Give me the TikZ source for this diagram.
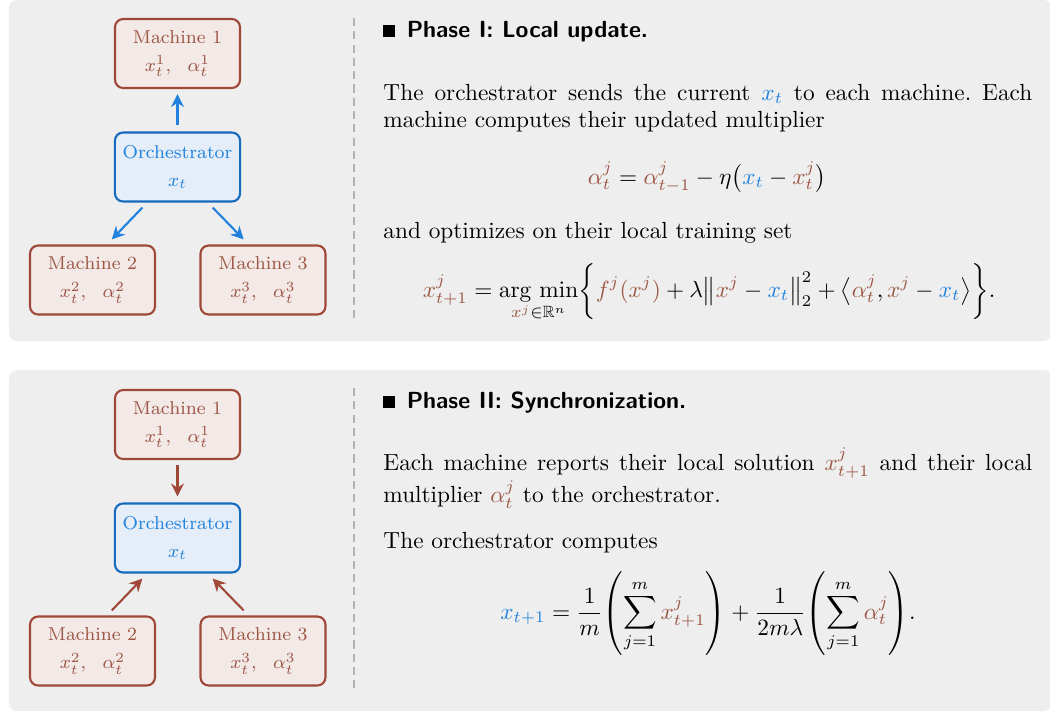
\documentclass[tikz,border=0pt]{standalone}
\usepackage{amsmath, amssymb}
\usepackage{tikz}
\usetikzlibrary{positioning, arrows.meta}
\frenchspacing

\definecolor{panelgray}{RGB}{238,238,238}
\definecolor{machborder}{RGB}{160,72,56}
\definecolor{machtext}{RGB}{156,86,68}
\definecolor{machfill}{RGB}{243,233,231}
\definecolor{orchborder}{RGB}{22,106,190}
\definecolor{orchtext}{RGB}{32,130,222}
\definecolor{orchfill}{RGB}{228,237,248}

\newcommand{\xcur}{{\color{orchtext}x_t}}
\newcommand{\xnxt}{{\color{orchtext}x_{t+1}}}
\newcommand{\mc}[1]{{\color{machtext}#1}}

\tikzset{
	machine/.style={draw=machborder, fill=machfill, text=machtext, line width=0.9pt,
		rounded corners=3.5pt, minimum width=53.6pt, minimum height=29.6pt,
		align=center, font=\footnotesize, execute at begin node={\rule{0pt}{7.6pt}}},
	orch/.style={machine, draw=orchborder, fill=orchfill, text=orchtext},
	push/.style={-{Stealth[length=5.5pt,width=5.5pt]}, line width=0.9pt, draw=orchtext},
	pull/.style={push, draw=machborder},
	panel/.style={fill=panelgray, rounded corners=3.5pt},
	divider/.style={draw=gray!60, line width=0.5pt, dash pattern=on 3.5pt off 2.2pt},
	para/.style={anchor=base west, text width=278.4pt, align=justify, inner sep=0pt},
	eqn/.style={anchor=base, inner sep=0pt},
	head/.style={anchor=base west, inner sep=0pt, font=\sffamily\bfseries}
}

\begin{document}
\begin{tikzpicture}[x=0.429pt, y=-0.429pt]
	\useasboundingbox (0,0) rectangle (1050,712);
	% two panels
	\foreach \off in {0,370}{
		\fill[panel] (9,\off) rectangle (1052,341+\off);
		\draw[divider] (354,18+\off) -- (354,320+\off);
	}
	
	% phase I: local update
	\node[machine] (a1) at (177.5,53.5) {Machine 1\\[2.5pt] $x_t^1,\ \ \alpha_t^1$};
	\node[orch] (aorc) at (177.5,167) {Orchestrator\\[2.5pt] $x_t$};
	\node[machine] (a2) at (92.5,280) {Machine 2\\[2.5pt] $x_t^2,\ \ \alpha_t^2$};
	\node[machine] (a3) at (263,280) {Machine 3\\[2.5pt] $x_t^3,\ \ \alpha_t^3$};
	\draw[push, shorten <=2.6pt, shorten >=2.2pt] (aorc.north) -- (a1.south);
	\draw[push, shorten <=3pt, shorten >=3pt] ([xshift=-13pt]aorc.south) -- ([xshift=6.2pt]a2.north);
	\draw[push, shorten <=3pt, shorten >=3pt] ([xshift=13pt]aorc.south) -- ([xshift=-6.2pt]a3.north);
	
	\node[head] (h1) at (383,37) {\rule{5pt}{5pt}\hspace{5pt}Phase I: Local update.};
	\node[para] (p1) at (383,100) {The orchestrator sends the current $\xcur$ to each machine. Each machine computes their updated multiplier};
	\node[eqn] (e1) at (707,184) {$\displaystyle \mc{\alpha_t^j} = \mc{\alpha_{t-1}^j} - \eta\bigl(\xcur - \mc{x_t^j}\bigr)$};
	\node[para] (p2) at (383,238) {and optimizes on their local training set};
	\node[eqn] (e2) at (709,297) {$\displaystyle \mc{x_{t+1}^j} = \mathop{\mathrm{arg\ min}}_{\mc{x^j}\in\mathbb{R}^n} \biggl\{ \mc{f^j(x^j)} + \lambda\bigl\|\mc{x^j} - \xcur\bigr\|_2^2 + \bigl\langle \mc{\alpha_t^j}, \mc{x^j} - \xcur \bigr\rangle \biggr\}.$};
	
	% phase II: synchronization
	\node[machine] (b1) at (177.5,424.5) {Machine 1\\[2.5pt] $x_t^1,\ \ \alpha_t^1$};
	\node[orch] (borc) at (177.5,538) {Orchestrator\\[2.5pt] $x_t$};
	\node[machine] (b2) at (92.5,651) {Machine 2\\[2.5pt] $x_t^2,\ \ \alpha_t^2$};
	\node[machine] (b3) at (263,651) {Machine 3\\[2.5pt] $x_t^3,\ \ \alpha_t^3$};
	\draw[pull, shorten <=2.2pt, shorten >=2.6pt] (b1.south) -- (borc.north);
	\draw[pull, shorten <=3pt, shorten >=3pt] ([xshift=6.2pt]b2.north) -- ([xshift=-13pt]borc.south);
	\draw[pull, shorten <=3pt, shorten >=3pt] ([xshift=-6.2pt]b3.north) -- ([xshift=13pt]borc.south);
	
	\node[head] (h2) at (383,408) {\rule{5pt}{5pt}\hspace{5pt}Phase II: Synchronization.};
	\node[para] (p3) at (383,470) {Each machine reports their local solution $\mc{x_{t+1}^j}$ and their local multiplier $\mc{\alpha_t^j}$ to the orchestrator.};
	\node[para] (p4) at (383,548) {The orchestrator computes};
	\node[eqn] (e3) at (708,619) {$\displaystyle \xnxt = {\frac{1}{m}}{\left(\sum_{j=1}^{m}\mc{x_{t+1}^j}\right)} + {\frac{1}{2m\lambda}}{\left(\sum_{j=1}^{m}\mc{\alpha_t^j}\right)}.$};
\end{tikzpicture}
\end{document}
